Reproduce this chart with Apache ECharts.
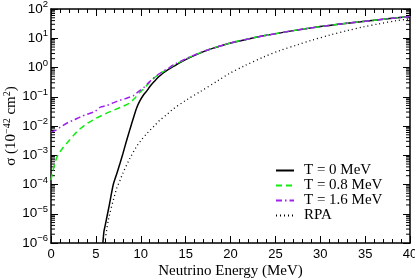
<!DOCTYPE html>
<html>
<head>
<meta charset="utf-8">
<script src="https://cdn.jsdelivr.net/npm/echarts@6/dist/echarts.min.js"></script>
<style>html,body{margin:0;padding:0;background:#fff}#c{width:415px;height:278px}</style>
</head>
<body>
<div id="c"></div>
<script>
// ---- data (cross section sigma in 1e-42 cm^2 vs neutrino energy in MeV) ----
const energyT0 = [5.78, 5.9, 6.0, 6.5, 6.94, 7.3, 7.7, 8.0, 8.4, 8.8, 9.2, 9.55, 9.9, 10.3, 10.7, 11.0, 11.5, 12.0, 12.5, 13.0, 13.6, 14.0, 15.0, 16.0, 17.0, 18.0, 19.0, 20.0, 22.0, 24.0, 26.0, 28.0, 30.0, 32.0, 34.0, 36.0, 38.0, 40.0];
const sigmaT0  = [1.0e-6, 2.5e-6, 3.5e-6, 2.0e-5, 1.0e-4, 2.2e-4, 5.4e-4, 1.1e-3, 3.0e-3, 7.8e-3, 1.95e-2, 4.2e-2, 7.2e-2, 0.115, 0.162, 0.22, 0.33, 0.48, 0.65, 0.83, 1.07, 1.26, 1.86, 2.6, 3.5, 4.5, 5.6, 6.9, 9.5, 12.6, 16.2, 20.4, 25, 30, 35.5, 41, 48, 55];

const energyT08 = [0.0, 0.2, 0.5, 0.8, 1.3, 1.9, 2.5, 3.0, 4.0, 5.0, 6.0, 7.0, 8.0, 8.8, 9.3, 9.8, 10.3, 11.0, 11.5, 12.0, 12.5, 13.0, 13.6, 14.7, 15.5, 16.0, 17.0, 18.0, 19.0, 20.0, 22.0, 24.0, 26.0, 28.0, 30.0, 32.0, 34.0, 36.0, 38.0, 40.0];
const sigmaT08  = [1.4e-4, 2.8e-4, 6.3e-4, 1.05e-3, 1.74e-3, 2.9e-3, 4.7e-3, 6.9e-3, 1.2e-2, 1.82e-2, 2.57e-2, 3.5e-2, 4.7e-2, 6.2e-2, 8.7e-2, 0.132, 0.182, 0.316, 0.44, 0.575, 0.72, 0.89, 1.17, 1.74, 2.3, 2.7, 3.55, 4.55, 5.65, 6.95, 9.5, 12.6, 16.2, 20.4, 25, 30, 35.5, 41, 48, 55];

const energyT16 = [0.0, 0.5, 1.0, 1.9, 2.5, 3.4, 4.0, 4.9, 5.5, 6.2, 7.0, 7.7, 8.5, 9.2, 9.6, 10.3, 11.0, 11.5, 12.0, 12.5, 13.0, 13.6, 14.7, 15.5, 16.0, 17.0, 18.0, 19.0, 20.0, 22.0, 24.0, 26.0, 28.0, 30.0, 32.0, 34.0, 36.0, 38.0, 40.0];
const sigmaT16  = [6.3e-3, 7.1e-3, 8.9e-3, 1.32e-2, 1.58e-2, 2.14e-2, 2.5e-2, 3.16e-2, 4.4e-2, 5.0e-2, 6.3e-2, 7.6e-2, 9.1e-2, 0.11, 0.138, 0.2, 0.33, 0.45, 0.59, 0.74, 0.91, 1.2, 1.78, 2.3, 2.7, 3.55, 4.55, 5.65, 6.95, 9.5, 12.6, 16.2, 20.4, 25, 30, 35.5, 41, 48, 55];

const energyRPA = [6.0, 6.4, 7.3, 7.7, 8.0, 8.8, 9.5, 10.0, 10.7, 11.5, 12.1, 13.0, 13.6, 15.1, 16.6, 18.6, 19.9, 21.5, 23.7, 25.5, 27.4, 29.0, 31.1, 33.0, 34.8, 36.5, 38.5, 40.0];
const sigmaRPA  = [1.0e-6, 6.3e-6, 7.1e-5, 1.4e-4, 2.4e-4, 7.9e-4, 1.9e-3, 3.16e-3, 5.6e-3, 1.0e-2, 1.55e-2, 2.6e-2, 3.8e-2, 7.8e-2, 0.148, 0.355, 0.63, 1.12, 2.3, 3.8, 5.9, 8.5, 12.9, 18.2, 24.5, 31, 40, 46];

const seriesNames = ['T = 0 MeV', 'T = 0.8 MeV', 'T = 1.6 MeV', 'RPA'];
const xTicks = [0, 5, 10, 15, 20, 25, 30, 35, 40];
const yExponents = [-6, -5, -4, -3, -2, -1, 0, 1, 2];
const yMinorMultipliers = [2, 3, 4, 5, 6, 7, 8, 9];

// ---- build ----
const zip = (a, b) => a.map((v, i) => [v, b[i]]);
const minorTickData = [];
for (let k = 0; k < yExponents.length - 1; k++) {
  for (const m of yMinorMultipliers) minorTickData.push([0, m * Math.pow(10, yExponents[k])]);
}
const supStr = n => (n < 0 ? '\u2212' + (-n) : String(n));

const chart = echarts.init(document.getElementById('c'), null, {renderer: 'canvas'});
const serifFont = 'Liberation Serif';
const sansFont = 'Liberation Sans';

const axisCommon = {
  axisLine: {show: true, onZero: false, lineStyle: {color: '#000', width: 1.5}},
  splitLine: {show: false}
};

const option = {
  animation: false,
  backgroundColor: '#fff',
  textStyle: {fontFamily: sansFont},
  grid: {left: 51, right: 5, top: 9, bottom: 35, containLabel: false, outerBoundsMode: 'none'},
  xAxis: [
    Object.assign({}, axisCommon, {
      type: 'value', min: xTicks[0], max: xTicks[xTicks.length - 1], interval: 5,
      position: 'bottom',
      axisTick: {show: true, inside: true, length: 7, lineStyle: {color: '#000', width: 1}},
      minorTick: {show: true, splitNumber: 5, length: 4, lineStyle: {color: '#000', width: 1}},
      axisLabel: {show: true, margin: 5, color: '#000', fontSize: 13, fontFamily: sansFont},
      name: 'Neutrino Energy (MeV)', nameLocation: 'middle', nameGap: 21, nameMoveOverlap: false,
      nameTextStyle: {color: '#000', fontSize: 15, fontFamily: serifFont}
    }),
    Object.assign({}, axisCommon, {
      type: 'value', min: xTicks[0], max: xTicks[xTicks.length - 1], interval: 5,
      position: 'top',
      axisTick: {show: true, inside: true, length: 7, lineStyle: {color: '#000', width: 1}},
      minorTick: {show: true, splitNumber: 5, length: 4, lineStyle: {color: '#000', width: 1}},
      axisLabel: {show: false}
    })
  ],
  yAxis: [
    Object.assign({}, axisCommon, {
      type: 'log', logBase: 10, min: Math.pow(10, yExponents[0]), max: Math.pow(10, yExponents[yExponents.length - 1]),
      splitNumber: 8, interval: 1,
      position: 'left',
      axisTick: {show: true, inside: true, length: 7, lineStyle: {color: '#000', width: 1}},
      axisLabel: {
        show: true, margin: 3, color: '#000', fontFamily: sansFont, fontSize: 13,
        formatter: v => '{b|10}{s|' + supStr(Math.round(Math.log10(v))) + '}',
        rich: {
          b: {fontSize: 13.5, fontFamily: sansFont, color: '#000'},
          s: {fontSize: 9.5, fontFamily: sansFont, color: '#000', padding: [0, 0, 9, 0]}
        }
      },
      name: '\u03c3 (10{s|\u221242} cm{s|2})', nameLocation: 'middle', nameGap: 31, nameMoveOverlap: false,
      nameTextStyle: {
        color: '#000', fontSize: 15, fontFamily: serifFont,
        rich: {s: {fontSize: 10, fontFamily: serifFont, color: '#000', padding: [0, 0, 8, 0]}}
      }
    }),
    Object.assign({}, axisCommon, {
      type: 'log', logBase: 10, min: Math.pow(10, yExponents[0]), max: Math.pow(10, yExponents[yExponents.length - 1]),
      splitNumber: 8, interval: 1,
      position: 'right',
      axisTick: {show: true, inside: true, length: 7, lineStyle: {color: '#000', width: 1}},
      axisLabel: {show: false}
    })
  ],
  legend: {
    data: seriesNames,
    orient: 'vertical', left: 270, top: 158,
    itemWidth: 18, itemHeight: 14, itemGap: 0,
    itemStyle: {opacity: 0},
    textStyle: {color: '#000', fontSize: 15, fontFamily: serifFont, padding: [0, 0, 0, 5]}
  },
  series: [
    {
      name: 'minor', type: 'custom', silent: true, xAxisIndex: 0, yAxisIndex: 0, clip: false,
      data: minorTickData,
      renderItem: (params, api) => {
        const v = api.value(1);
        const l = api.coord([xTicks[0], v]);
        const r = api.coord([xTicks[xTicks.length - 1], v]);
        return {type: 'group', children: [
          {type: 'line', shape: {x1: l[0], y1: l[1], x2: l[0] + 4, y2: l[1]}, style: {stroke: '#000', lineWidth: 1}},
          {type: 'line', shape: {x1: r[0] - 4, y1: r[1], x2: r[0], y2: r[1]}, style: {stroke: '#000', lineWidth: 1}}
        ]};
      }
    },
    {
      name: seriesNames[3], type: 'line', data: zip(energyRPA, sigmaRPA), showSymbol: false, symbol: 'none', smooth: 0.3,
      lineStyle: {color: '#000', width: 1.3, type: [1, 3]}, itemStyle: {color: '#000'}
    },
    {
      name: seriesNames[0], type: 'line', data: zip(energyT0, sigmaT0), showSymbol: false, symbol: 'none', smooth: 0.3,
      lineStyle: {color: '#000', width: 1.5}, itemStyle: {color: '#000'}
    },
    {
      name: seriesNames[1], type: 'line', data: zip(energyT08, sigmaT08), showSymbol: false, symbol: 'none', smooth: 0.3,
      lineStyle: {color: '#11ee11', width: 1.5, type: [6, 4]}, itemStyle: {color: '#11ee11'}
    },
    {
      name: seriesNames[2], type: 'line', data: zip(energyT16, sigmaT16), showSymbol: false, symbol: 'none', smooth: 0.3,
      lineStyle: {color: '#a020f0', width: 1.5, type: [6, 3, 1.5, 3]}, itemStyle: {color: '#a020f0'}
    }
  ]
};
chart.setOption(option);
</script>
</body>
</html>
